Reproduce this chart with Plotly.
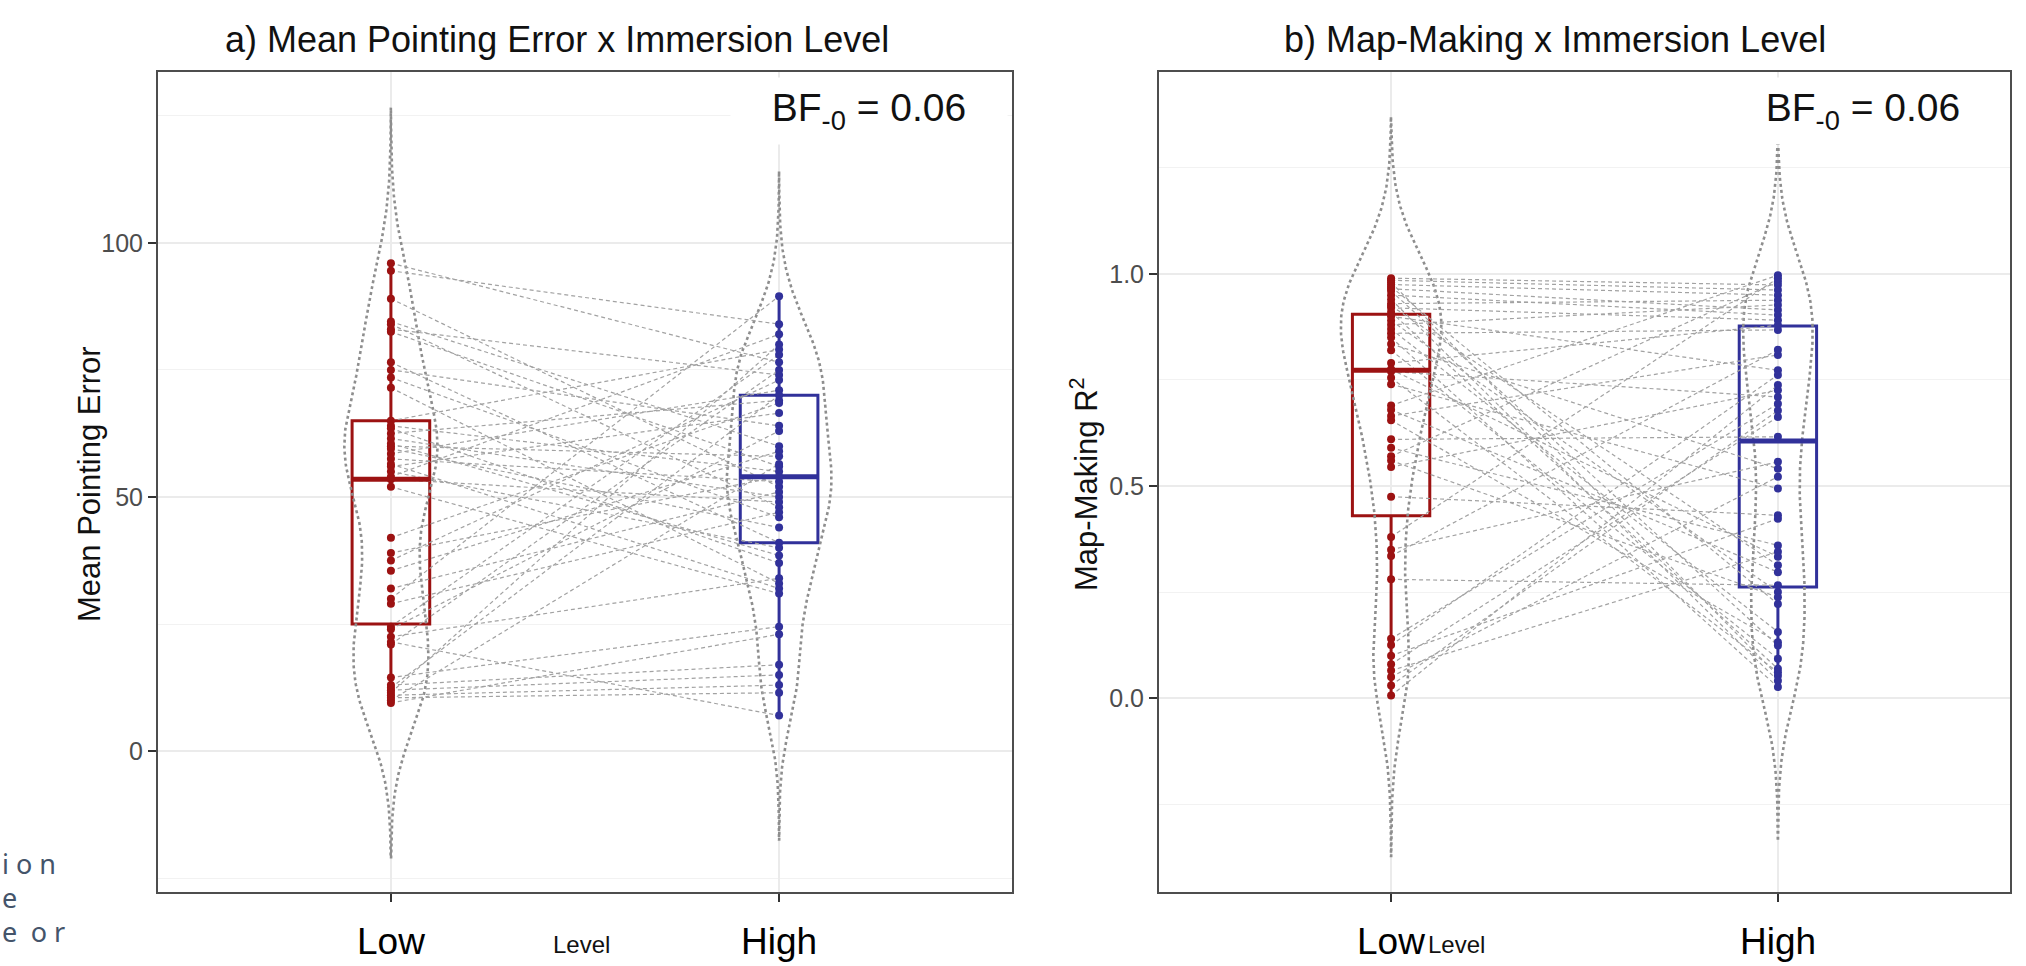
import numpy as np
import plotly.graph_objects as go

W, H = 2026, 966

# ---------------- data ----------------
categories = ["Low", "High"]
cat_pos = [1, 2]

# a) Mean Pointing Error, paired by participant (Low[i] <-> High[i])
mpe_low = [96, 94.5, 89, 84.5, 84, 83, 82.5, 76.5, 75, 73.5, 71.5, 65, 64, 63.5, 62.5, 61.5,
           60.5, 60, 59.5, 58.5, 57.5, 56.5, 56, 55, 54, 53.5, 52, 42, 39, 37.5, 35.5, 32,
           30, 29, 24.5, 24, 22.5, 21.5, 21, 14.5, 13, 12.5, 12, 11.5, 11, 10.5, 10, 9.5]
mpe_high = [76.5, 84, 52, 60, 48, 74, 56, 41, 64, 46, 33, 79, 55, 37, 69, 50,
            38.5, 58, 44, 71, 53, 32, 66.5, 40, 82, 49, 31, 68.5, 54, 73, 59, 51,
            89.5, 47, 78, 63, 34, 7, 75, 24.5, 17, 70, 15, 80, 13, 11.5, 56.5, 23]
mpe_q1 = [25.0, 41.0]
mpe_median = [53.5, 54.0]
mpe_q3 = [65.0, 70.0]
mpe_lower = [9.5, 7.0]
mpe_upper = [96.0, 89.5]
mpe_bw = [10.2, 8.2]

# b) Map-Making R^2, paired by participant
map_low = [0.99, 0.985, 0.98, 0.975, 0.97, 0.965, 0.96, 0.95, 0.94, 0.93, 0.925, 0.92,
           0.91, 0.90, 0.89, 0.88, 0.87, 0.86, 0.85, 0.835, 0.82, 0.79, 0.775, 0.77,
           0.755, 0.74, 0.69, 0.68, 0.665, 0.655, 0.61, 0.59, 0.57, 0.56, 0.545, 0.475,
           0.38, 0.35, 0.335, 0.28, 0.14, 0.125, 0.10, 0.08, 0.065, 0.05, 0.03, 0.006]
map_high = [0.974, 0.962, 0.053, 0.95, 0.222, 0.915, 0.124, 0.903, 0.041, 0.938, 0.313, 0.891,
            0.069, 0.773, 0.25, 0.927, 0.156, 0.868, 0.026, 0.541, 0.093, 0.879, 0.333, 0.71,
            0.061, 0.494, 0.997, 0.297, 0.809, 0.132, 0.616, 0.36, 0.982, 0.238, 0.726, 0.431,
            0.99, 0.557, 0.821, 0.266, 0.694, 0.762, 0.423, 0.663, 0.345, 0.522, 0.678, 0.738]
map_q1 = [0.43, 0.262]
map_median = [0.773, 0.606]
map_q3 = [0.905, 0.877]
map_lower = [0.006, 0.026]
map_upper = [0.99, 0.997]
map_bw = [0.127, 0.12]

titles = ["a) Mean Pointing Error x Immersion Level", "b) Map-Making x Immersion Level"]
y_titles = ["Mean Pointing Error", "Map-Making R<sup>2</sup>"]
bf_text = "BF<sub>-0</sub> = 0.06"
x_title = "Level"
side_text = ["i o n", "e", "e\u2002o r"]

# ---------------- style ----------------
RED = "#9c1212"
BLUE = "#31319a"
cat_colors = [RED, BLUE]
VIO = "#8e8e8e"
LINE = "#a2a2a2"
FONT = "Liberation Sans, Arial, sans-serif"
box_w = 0.2


def px_x(p):
    return p / W


def px_y(p):
    return 1 - p / H


def kde_outline(vals, bw, pos, half_width):
    v = np.asarray(vals, dtype=float)
    grid = np.linspace(v.min() - 3 * bw, v.max() + 3 * bw, 256)
    dens = np.exp(-0.5 * ((grid[:, None] - v[None, :]) / bw) ** 2).sum(axis=1)
    dens = dens / dens.max() * half_width
    xs = np.concatenate([pos + dens, (pos - dens)[::-1]])
    ys = np.concatenate([grid, grid[::-1]])
    return xs, ys


panels = [
    dict(xa="x", ya="y", xr=(158, 1012), yrange=[-27.7, 133.6], ticks=[0, 50, 100],
         minor=[-25, 25, 75, 125], fmt="", low=mpe_low, high=mpe_high, q1=mpe_q1,
         med=mpe_median, q3=mpe_q3, lo=mpe_lower, hi=mpe_upper, bw=mpe_bw,
         vw=[0.24, 0.27], title_x=557, ytitle_x=89, level_x=581, bf_x=869),
    dict(xa="x2", ya="y2", xr=(1159, 2010), yrange=[-0.457, 1.476], ticks=[0, 0.5, 1.0],
         minor=[-0.25, 0.25, 0.75, 1.25], fmt=".1f", low=map_low, high=map_high, q1=map_q1,
         med=map_median, q3=map_q3, lo=map_lower, hi=map_upper, bw=map_bw,
         vw=[0.26, 0.18], title_x=1555, ytitle_x=1084, level_x=1456, bf_x=1863),
]

TOP, BOTTOM = 72, 892

fig = go.Figure()
annotations = []
layout_axes = {}

for k, p in enumerate(panels):
    xa, ya = p["xa"], p["ya"]
    groups = [p["low"], p["high"]]
    # violins (dotted outline)
    for i, vals in enumerate(groups):
        vx, vy = kde_outline(vals, p["bw"][i], cat_pos[i], p["vw"][i] / 2)
        fig.add_trace(go.Scatter(x=vx, y=vy, xaxis=xa, yaxis=ya, mode="lines",
                                 line=dict(color=VIO, width=2.6, dash="dot"),
                                 hoverinfo="skip", showlegend=False))
    # connecting lines
    lx, ly = [], []
    for a, b in zip(p["low"], p["high"]):
        lx += [cat_pos[0], cat_pos[1], None]
        ly += [a, b, None]
    fig.add_trace(go.Scatter(x=lx, y=ly, xaxis=xa, yaxis=ya, mode="lines",
                             line=dict(color=LINE, width=1.2, dash="4px,3px"),
                             hoverinfo="skip", showlegend=False))
    # boxes
    for i in range(2):
        fig.add_trace(go.Box(
            x=[cat_pos[i]], q1=[p["q1"][i]], median=[p["med"][i]], q3=[p["q3"][i]],
            lowerfence=[p["lo"][i]], upperfence=[p["hi"][i]], xaxis=xa, yaxis=ya,
            width=box_w, whiskerwidth=0, line=dict(color=cat_colors[i], width=3),
            fillcolor="rgba(0,0,0,0)", boxpoints=False, hoverinfo="skip", showlegend=False))
        fig.add_trace(go.Scatter(
            x=[cat_pos[i] - box_w / 2, cat_pos[i] + box_w / 2], y=[p["med"][i]] * 2,
            xaxis=xa, yaxis=ya, mode="lines", line=dict(color=cat_colors[i], width=5),
            hoverinfo="skip", showlegend=False))
    # points
    for i, vals in enumerate(groups):
        fig.add_trace(go.Scatter(
            x=[cat_pos[i]] * len(vals), y=vals, xaxis=xa, yaxis=ya, mode="markers",
            marker=dict(color=cat_colors[i], size=8, line=dict(width=0)),
            hoverinfo="skip", showlegend=False))

    xkey = "xaxis" if k == 0 else "xaxis2"
    ykey = "yaxis" if k == 0 else "yaxis2"
    layout_axes[xkey] = dict(
        domain=[px_x(p["xr"][0]), px_x(p["xr"][1])], range=[0.4, 2.6], anchor=ya,
        tickvals=cat_pos, showticklabels=False, ticks="outside", ticklen=8, tickwidth=2,
        tickcolor="#333333", showline=True, mirror=True, linecolor="#4d4d4d", linewidth=2,
        showgrid=True, gridcolor="#ebebeb", gridwidth=1.6, zeroline=False, fixedrange=True)
    layout_axes[ykey] = dict(
        domain=[px_y(BOTTOM), px_y(TOP)], range=p["yrange"], anchor=xa,
        tickvals=p["ticks"], tickformat=p["fmt"], ticks="outside", ticklen=8, tickwidth=2,
        tickcolor="#333333", tickfont=dict(family=FONT, size=25, color="#4d4d4d"),
        showline=True, mirror=True, linecolor="#4d4d4d", linewidth=2,
        showgrid=True, gridcolor="#ebebeb", gridwidth=1.6, zeroline=False,
        minor=dict(tickvals=p["minor"], showgrid=True, gridcolor="#f2f2f2", gridwidth=1, ticks=""))

    # texts
    annotations.append(dict(text=titles[k], xref="paper", yref="paper", x=px_x(p["title_x"]),
                            y=px_y(39), xanchor="center", yanchor="middle", showarrow=False,
                            font=dict(family=FONT, size=36, color="#111111")))
    annotations.append(dict(text=y_titles[k], xref="paper", yref="paper", x=px_x(p["ytitle_x"]),
                            y=px_y(484), xanchor="center", yanchor="middle", textangle=-90,
                            showarrow=False, font=dict(family=FONT, size=31, color="#111111")))
    annotations.append(dict(text=bf_text, xref="paper", yref="paper", x=px_x(p["bf_x"]),
                            y=px_y(111), xanchor="center", yanchor="middle", showarrow=False,
                            width=276, height=66, bgcolor="white", borderpad=0, align="center",
                            font=dict(family=FONT, size=39, color="#111111")))
    annotations.append(dict(text=x_title, xref="paper", yref="paper", x=px_x(p["level_x"]),
                            y=px_y(944), xanchor="center", yanchor="middle", showarrow=False,
                            font=dict(family=FONT, size=24, color="#111111")))
    for i, c in enumerate(categories):
        annotations.append(dict(text=c, x=cat_pos[i], xref=xa, yref="paper", y=px_y(941),
                                xanchor="center", yanchor="middle", showarrow=False,
                                font=dict(family=FONT, size=37, color="#000000")))

for j, t in enumerate(side_text):
    annotations.append(dict(text=t, xref="paper", yref="paper", x=0, y=px_y(863 + 34 * j),
                            xanchor="left", yanchor="middle", showarrow=False,
                            font=dict(family="Noto Sans, sans-serif", size=27, color="#44546a")))

fig.update_layout(
    width=W, height=H, paper_bgcolor="white", plot_bgcolor="white",
    margin=dict(l=0, r=0, t=0, b=0, autoexpand=False),
    showlegend=False, annotations=annotations, **layout_axes)

fig.write_html("out.html", config={"displayModeBar": False},
               post_script="document.body.style.margin='0';document.body.style.overflow='hidden';")
